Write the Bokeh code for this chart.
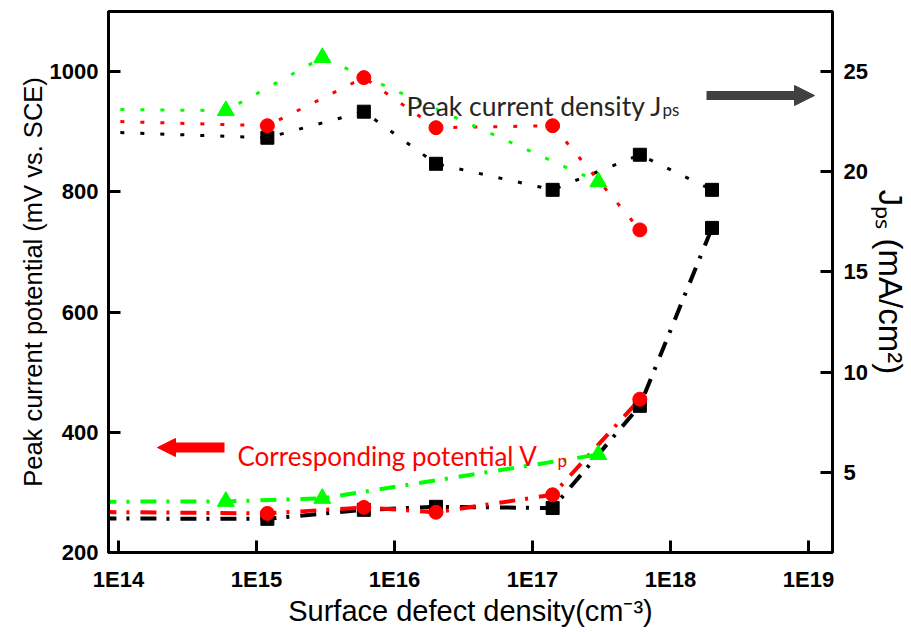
import math
from bokeh.plotting import figure
from bokeh.models import (Range1d, LinearAxis, FixedTicker, CustomJSTickFormatter,
                          Label, Arrow, NormalHead)
from bokeh.embed import file_html
from bokeh.resources import INLINE

# ---------------- data ----------------
# Surface defect density (cm^-3)
x_bs = [1e13, 1.2e15, 6e15, 2e16, 1.4e17, 6e17, 2e18]      # black squares
x_rc = [1e13, 1.2e15, 6e15, 2e16, 1.4e17, 6e17]            # red circles
x_gt = [1e13, 6e14, 3e15, 3e17]                            # green triangles

# Peak current density Jps (mA/cm^2) - right axis
j_black = [22.2, 21.7, 23.0, 20.4, 19.1, 20.85, 19.1]
j_red = [22.7, 22.3, 24.7, 22.2, 22.3, 17.1]
j_green = [23.2, 23.05, 25.7, 19.5]

# Corresponding potential Vp (mV vs. SCE) - left axis
v_black = [257, 256, 271, 276, 274, 444, 740]
v_red = [269, 265, 275, 267, 296, 455]
v_green = [284, 285, 290, 363]

x_tick_vals = [1e14, 1e15, 1e16, 1e17, 1e18, 1e19]
x_tick_labels = ["1E14", "1E15", "1E16", "1E17", "1E18", "1E19"]
v_ticks = [200, 400, 600, 800, 1000]
j_ticks = [5, 10, 15, 20, 25]

# ---------------- layout ----------------
W, H = 911, 632
FX0, FX1, FY0, FY1 = 108, 832, 11, 552
XLO, XHI = 13.928, 19.174
YLO, YHI = 200, 1100
JLO, JHI = 1, 28

def dx(px):
    return 10 ** (XLO + (px - FX0) / (FX1 - FX0) * (XHI - XLO))

def dy(py):
    return YLO + (FY1 - py) / (FY1 - FY0) * (YHI - YLO)

p = figure(width=W, height=H, x_axis_type="log", output_backend="svg",
           toolbar_location=None, x_range=Range1d(10 ** XLO, 10 ** XHI),
           y_range=Range1d(YLO, YHI),
           min_border_left=FX0, min_border_right=W - FX1,
           min_border_top=FY0, min_border_bottom=H - FY1)
p.extra_y_ranges = {"J": Range1d(JLO, JHI)}
p.grid.visible = False
p.outline_line_color = "black"
p.outline_line_width = 3
p.background_fill_color = "white"
p.border_fill_color = "white"

jaxis = LinearAxis(y_range_name="J")
p.add_layout(jaxis, "right")

LABFONT = "Liberation Sans"
for ax in [p.xaxis[0], p.yaxis[0], jaxis]:
    ax.axis_line_width = 3
    ax.major_tick_line_width = 3
    ax.major_tick_in = 12
    ax.major_tick_out = 0
    ax.minor_tick_line_color = None
    ax.major_label_text_font = "Liberation Sans"
    ax.major_label_text_font_style = "bold"
    ax.major_label_text_font_size = "22px"
    ax.major_label_text_color = "black"
    ax.axis_label_text_font = LABFONT
    ax.axis_label_text_font_style = "normal"
    ax.axis_label_text_color = "black"

p.xaxis[0].ticker = FixedTicker(ticks=x_tick_vals)
p.xaxis[0].formatter = CustomJSTickFormatter(
    args=dict(vals=x_tick_vals, labels=x_tick_labels),
    code="""
for (let i = 0; i < vals.length; i++) {
  if (Math.abs(Math.log10(tick) - Math.log10(vals[i])) < 1e-6) return labels[i];
}
return "";
""")
p.xaxis[0].major_label_text_font = "'Liberation Sans Narrow', 'Liberation Sans'"
p.xaxis[0].major_label_standoff = 14
p.xaxis[0].axis_label = "Surface defect density(cm\u207b\u00b3)"
p.xaxis[0].axis_label_text_font_size = "29px"
p.xaxis[0].axis_label_standoff = 0

p.yaxis[0].ticker = FixedTicker(ticks=v_ticks)
p.yaxis[0].major_label_standoff = 10
p.yaxis[0].axis_label = "Peak current potential (mV vs. SCE)"
p.yaxis[0].axis_label_text_font_size = "25.5px"
p.yaxis[0].axis_label_standoff = 0

jaxis.ticker = FixedTicker(ticks=j_ticks)
jaxis.major_label_standoff = 11
jaxis.axis_label = "J\u209a\u209b (mA/cm\u00b2)"
jaxis.axis_label_text_font_size = "33px"
jaxis.axis_label_standoff = 1

# ---------------- series ----------------
DOT = "4 16"
DASHDOT = "16 10 3 11"
# Jps (dotted, right axis)
p.line(x_bs, j_black, y_range_name="J", line_color="black", line_width=3, line_dash=DOT)
p.line(x_rc, j_red, y_range_name="J", line_color="red", line_width=3, line_dash=DOT)
p.line(x_gt, j_green, y_range_name="J", line_color="#00ff00", line_width=3, line_dash=DOT)
# Vp (dash-dot, left axis)
p.line(x_bs, v_black, line_color="black", line_width=4, line_dash=DASHDOT)
p.line(x_rc, v_red, line_color="red", line_width=4, line_dash=DASHDOT)
p.line(x_gt, v_green, line_color="#00ff00", line_width=4, line_dash=DASHDOT)

p.scatter(x_bs, j_black, y_range_name="J", marker="square", size=13, color="black")
p.scatter(x_bs, v_black, marker="square", size=13, color="black")
p.scatter(x_rc, j_red, y_range_name="J", marker="circle", size=14, color="red")
p.scatter(x_rc, v_red, marker="circle", size=14, color="red")
p.scatter(x_gt, j_green, y_range_name="J", marker="triangle", size=17, color="#00ff00")
p.scatter(x_gt, v_green, marker="triangle", size=17, color="#00ff00")

# ---------------- annotations ----------------
ANNFONT = "Lato"
p.add_layout(Label(x=dx(406), y=dy(105), text="Peak current density J", text_font=ANNFONT,
                   text_font_size="26.5px", text_color="#262626", text_baseline="alphabetic"))
p.add_layout(Label(x=dx(662), y=dy(109), text="ps", text_font=ANNFONT,
                   text_font_size="17px", text_color="#262626", text_baseline="alphabetic"))
p.add_layout(Arrow(x_start=dx(706), y_start=dy(95), x_end=dx(814), y_end=dy(95),
                   line_color="#404040", line_width=9,
                   end=NormalHead(size=20, fill_color="#404040", line_color="#404040")))

p.add_layout(Label(x=dx(237), y=dy(455), text="Corresponding  potential  V", text_font=ANNFONT,
                   text_font_size="26px", text_color="red", text_baseline="alphabetic"))
p.add_layout(Label(x=dx(557), y=dy(460), text="p", text_font=ANNFONT,
                   text_font_size="17px", text_color="red", text_baseline="alphabetic"))
p.add_layout(Arrow(x_start=dx(224), y_start=dy(447), x_end=dx(157), y_end=dy(447),
                   line_color="red", line_width=10,
                   end=NormalHead(size=18, fill_color="red", line_color="red")))

open("out.html", "w").write(file_html(p, INLINE))
